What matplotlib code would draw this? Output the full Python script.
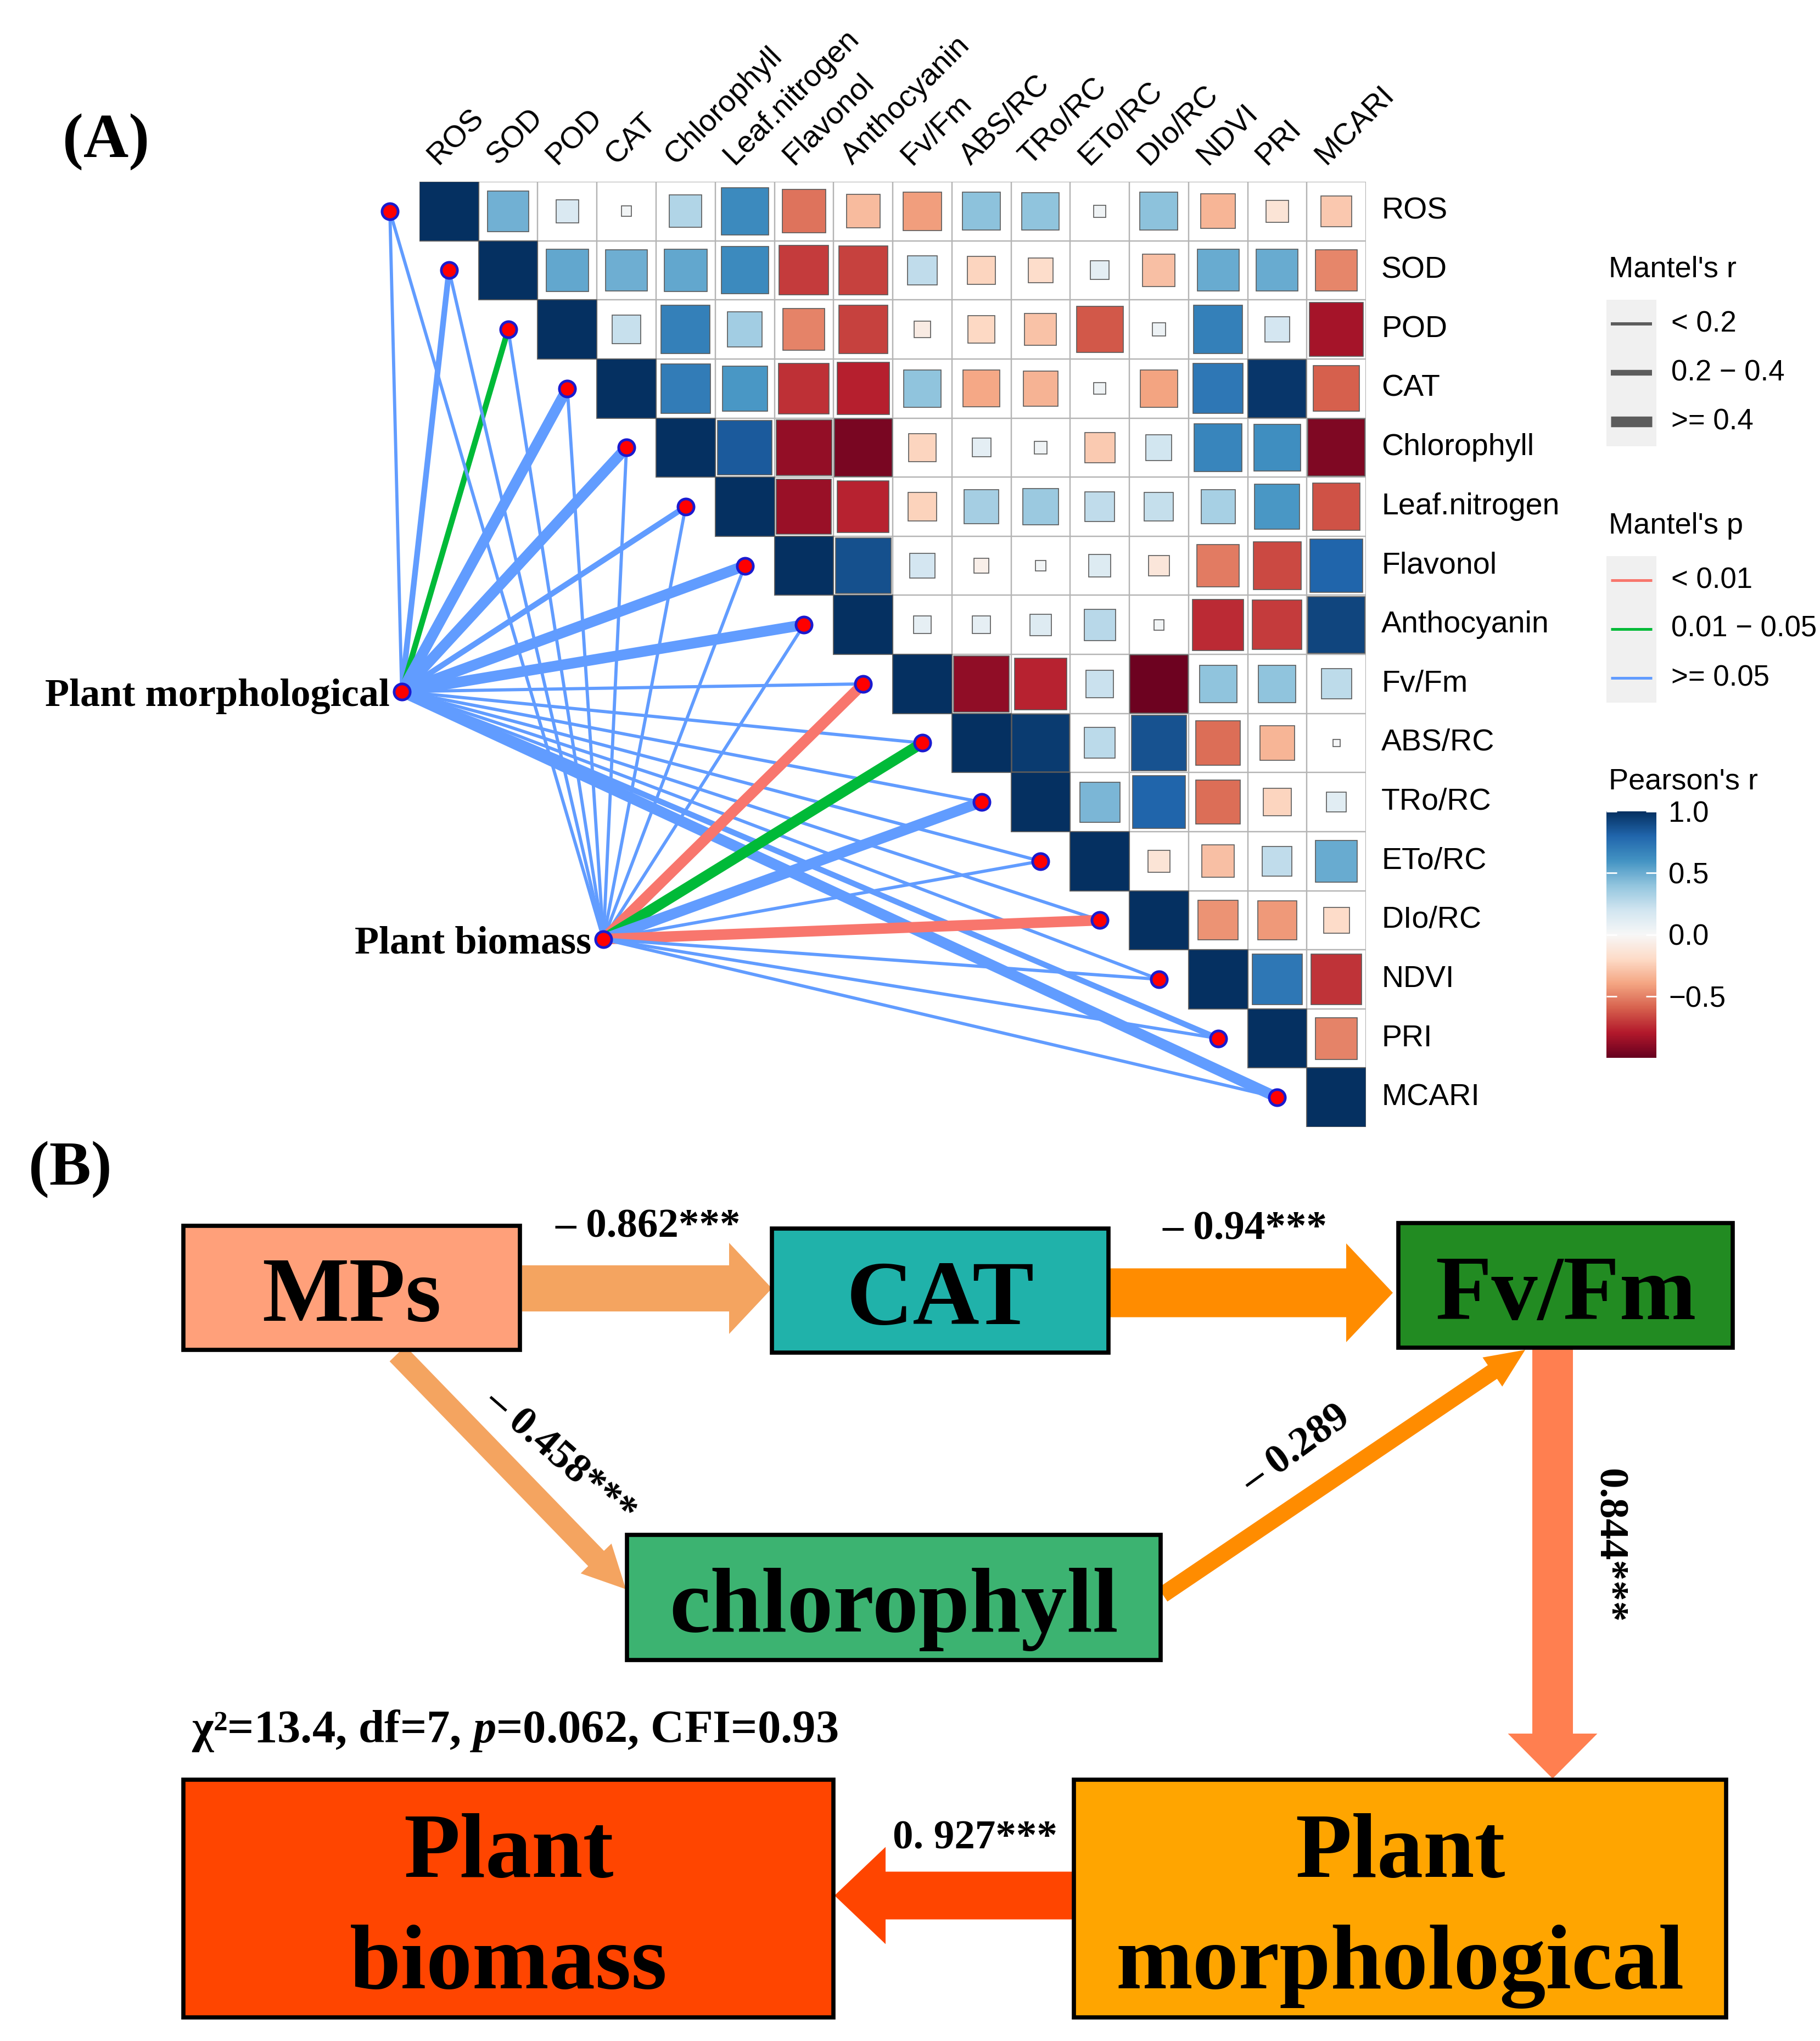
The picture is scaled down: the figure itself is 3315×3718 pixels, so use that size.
import numpy as np
import matplotlib
matplotlib.use("Agg")
import matplotlib.pyplot as plt
from matplotlib.patches import Rectangle, FancyArrow
from matplotlib.colors import Normalize
from matplotlib.cm import ScalarMappable

plt.rcParams['font.family'] = ['Liberation Sans', 'DejaVu Sans']
plt.rcParams['mathtext.fontset'] = 'custom'
plt.rcParams['mathtext.rm'] = 'Liberation Serif:bold'
plt.rcParams['mathtext.it'] = 'Liberation Serif:italic:bold'

W, H = 3316, 3718

# ---------------- data: panel A ----------------
variables = ["ROS", "SOD", "POD", "CAT", "Chlorophyll", "Leaf.nitrogen", "Flavonol",
             "Anthocyanin", "Fv/Fm", "ABS/RC", "TRo/RC", "ETo/RC", "DIo/RC",
             "NDVI", "PRI", "MCARI"]

# upper triangle of Pearson's r: row i holds the columns i+1 .. 15
pearson_r = [
    [0.48, 0.15, 0.03, 0.30, 0.64, -0.54, -0.32, -0.42, 0.41, 0.40, 0.04, 0.41, -0.34, -0.14, -0.27],
    [0.52, 0.49, 0.52, 0.64, -0.70, -0.68, 0.25, -0.22, -0.18, 0.10, -0.30, 0.50, 0.50, -0.49],
    [0.23, 0.68, 0.35, -0.50, -0.68, -0.08, -0.21, -0.29, -0.62, 0.05, 0.68, 0.18, -0.83],
    [0.70, 0.58, -0.73, -0.78, 0.40, -0.39, -0.35, 0.04, -0.40, 0.72, 0.97, -0.60],
    [0.84, -0.88, -0.95, -0.22, 0.10, 0.045, -0.26, 0.19, 0.66, 0.62, -0.93],
    [-0.86, -0.77, -0.23, 0.34, 0.37, 0.25, 0.24, 0.33, 0.58, -0.64],
    [0.88, 0.18, -0.06, 0.03, 0.14, -0.12, -0.52, -0.66, 0.80],
    [0.09, 0.09, 0.13, 0.28, 0.03, -0.75, -0.70, 0.92],
    [-0.89, -0.77, 0.22, -0.98, 0.40, 0.40, 0.26],
    [0.96, 0.27, 0.87, -0.56, -0.34, 0.015],
    [0.46, 0.80, -0.56, -0.22, 0.11],
    [-0.14, -0.30, 0.25, 0.50],
    [-0.45, -0.43, -0.19],
    [0.72, -0.72],
    [-0.50],
]

mantel_groups = ["Plant morphological", "Plant biomass"]
mantel_r_morph = [0.12, 0.30, 0.28, 0.52, 0.55, 0.32, 0.48, 0.50,
                  0.10, 0.12, 0.10, 0.08, 0.10, 0.12, 0.30, 0.50]
mantel_p_morph = [0.30, 0.12, 0.03, 0.08, 0.07, 0.15, 0.09, 0.08,
                  0.40, 0.35, 0.45, 0.50, 0.40, 0.35, 0.12, 0.08]
mantel_r_bio = [0.10, 0.08, 0.10, 0.12, 0.10, 0.12, 0.10, 0.12,
                0.45, 0.50, 0.42, 0.10, 0.55, 0.10, 0.12, 0.10]
mantel_p_bio = [0.40, 0.50, 0.40, 0.35, 0.45, 0.35, 0.40, 0.35,
                0.005, 0.02, 0.07, 0.40, 0.002, 0.45, 0.35, 0.40]

# ---------------- data: panel B ----------------
sem_nodes = ["MPs", "CAT", "Fv/Fm", "chlorophyll", "Plant\nbiomass", "Plant\nmorphological"]
sem_colors = ["#FFA07A", "#20B2AA", "#228B22", "#3CB371", "#FF4500", "#FFA500"]
path_coef = [-0.862, -0.94, -0.458, -0.289, 0.844, 0.927]
path_labels = ["– 0.862***", "– 0.94***", "– 0.458***", "– 0.289", "0.844***", "0. 927***"]
fit_text = r"χ²=13.4, df=7, $p$=0.062, CFI=0.93"


def link_width(r):
    if r < 0.2:
        return 4.2
    if r < 0.4:
        return 7.5
    return 14


def link_color(p):
    if p < 0.01:
        return "#F8766D"
    if p < 0.05:
        return "#00BA38"
    return "#619CFF"


fig = plt.figure(figsize=(W / 100, H / 100), dpi=100)

# background axes in pixel units (panel B, legends, panel tags)
ax_bg = fig.add_axes([0, 0, 1, 1], zorder=0)
ax_bg.set_xlim(0, W)
ax_bg.set_ylim(H, 0)
ax_bg.axis('off')

# heatmap axes in cell units
ax = fig.add_axes([764 / W, 1 - 2053 / H, 1724 / W, 1722 / H], zorder=1)
ax.set_xlim(-0.5, 15.5)
ax.set_ylim(15.5, -0.5)
ax.axis('off')

cmap = plt.get_cmap('RdBu')
norm = Normalize(-1, 1)
n = len(variables)

for i in range(n):
    for j in range(i, n):
        r = 1.0 if i == j else pearson_r[i][j - i - 1]
        ax.add_patch(Rectangle((j - 0.5, i - 0.5), 1, 1, fill=False,
                               edgecolor='#b4b4b4', lw=1.6, zorder=2))
        side = np.sqrt(abs(r))
        ax.add_patch(Rectangle((j - side / 2, i - side / 2), side, side,
                               facecolor=cmap(norm(r)), edgecolor='#5a5a5a',
                               lw=1.2, zorder=3))

for j, name in enumerate(variables):
    ax.text(j - 0.18, -0.77, name, rotation=45, rotation_mode='anchor',
            ha='left', va='baseline', fontsize=40, clip_on=False)
    ax.text(15.5 + 0.26, j, name, ha='left', va='center', fontsize=40, clip_on=False)

# Mantel links
hub_pos = {"Plant morphological": (-0.80, 8.13), "Plant biomass": (2.61, 12.32)}
ends_x = [i - 1 for i in range(n)]
ends_y = [i for i in range(n)]
for group, rs, ps in [("Plant morphological", mantel_r_morph, mantel_p_morph),
                      ("Plant biomass", mantel_r_bio, mantel_p_bio)]:
    hx, hy = hub_pos[group]
    for k in range(n):
        ax.plot([hx, ends_x[k]], [hy, ends_y[k]], color=link_color(ps[k]),
                lw=link_width(rs[k]), solid_capstyle='butt', clip_on=False, zorder=4)

ax.plot(ends_x, ends_y, 'o', ms=21, mfc='red', mec='#1a1ad0', mew=3.5,
        clip_on=False, zorder=6)
for group in mantel_groups:
    hx, hy = hub_pos[group]
    ax.plot([hx], [hy], 'o', ms=21, mfc='red', mec='#1a1ad0', mew=3.5,
            clip_on=False, zorder=6)
    ax.text(hx - 0.2, hy + 0.08, group, ha='right', va='center', fontsize=52,
            family='Liberation Serif', fontweight='bold', clip_on=False)

# legends
def legend_block(title, title_y, key_top, items):
    ax_bg.text(2930, title_y, title, ha='left', va='center', fontsize=39)
    ax_bg.add_patch(Rectangle((2926, key_top), 91, 267, facecolor='#f0f0f0',
                              edgecolor='none'))
    for k, (label, color, lw) in enumerate(items):
        y = key_top + 44 + 89 * k
        ax_bg.plot([2934, 3009], [y, y], color=color, lw=lw, solid_capstyle='butt')
        ax_bg.text(3044, y, label, ha='left', va='center', fontsize=38)


legend_block("Mantel's r", 490, 546,
             [("< 0.2", '#5c5c5c', link_width(0.1)),
              ("0.2 − 0.4", '#5c5c5c', link_width(0.3)),
              (">= 0.4", '#5c5c5c', link_width(0.5))])
legend_block("Mantel's p", 958, 1013,
             [("< 0.01", link_color(0.001), 3.6),
              ("0.01 − 0.05", link_color(0.02), 3.6),
              (">= 0.05", link_color(0.5), 3.6)])

ax_bg.text(2930, 1424, "Pearson's r", ha='left', va='center', fontsize=39)
cax = fig.add_axes([2926 / W, 1 - 1927 / H, 91 / W, 449 / H], zorder=2)
cb = fig.colorbar(ScalarMappable(norm=norm, cmap=cmap), cax=cax,
                  ticks=[-0.5, 0.0, 0.5, 1.0])
cb.outline.set_visible(False)
cax.set_yticklabels(["−0.5", "0.0", "0.5", "1.0"])
cax.tick_params(axis='y', direction='in', color='white', length=14, width=2,
                left=True, right=True, labelsize=38, pad=16)

# panel tags
ax_bg.text(114, 258, "(A)", ha='left', va='center', fontsize=82,
           family='Liberation Serif', fontweight='bold')
ax_bg.text(52, 2130, "(B)", ha='left', va='center', fontsize=82,
           family='Liberation Serif', fontweight='bold')

# ---------------- panel B ----------------
boxes = [(334, 2233, 947, 2459), (1406, 2238, 2019, 2464), (2547, 2228, 3156, 2455),
         (1142, 2796, 2114, 3024), (334, 3242, 1518, 3675), (1956, 3242, 3144, 3675)]
# baselines of each text line inside the boxes
text_lines = [[2406], [2412], [2403], [2972], [3419, 3622], [3419, 3622]]

for name, color, (x0, y0, x1, y1), bases in zip(sem_nodes, sem_colors, boxes, text_lines):
    ax_bg.add_patch(Rectangle((x0, y0), x1 - x0, y1 - y0, facecolor=color,
                              edgecolor='black', lw=5.5, zorder=3))
    for line, yb in zip(name.split("\n"), bases):
        ax_bg.text((x0 + x1) / 2, yb, line, ha='center', va='baseline', fontsize=121,
                   family='Liberation Serif', fontweight='bold', zorder=4)

arrows = [
    ((951, 2347), (1406, 2347), 84, 166, 78, "#F4A460"),
    ((2021, 2355), (2537, 2355), 89, 180, 85, "#FF8C00"),
    ((724, 2466), (1140, 2895), 40, 78, 78, "#F4A460"),
    ((2118, 2905), (2778, 2459), 30, 64, 72, "#FF8C00"),
    ((2828, 2457), (2828, 3240), 74, 163, 82, "#FF7F50"),
    ((1954, 3453), (1520, 3453), 87, 177, 93, "#FF4500"),
]
for (xs, ys), (xe, ye), w, hw, hl, c in arrows:
    ax_bg.add_patch(FancyArrow(xs, ys, xe - xs, ye - ys, width=w, head_width=hw,
                               head_length=hl, length_includes_head=True,
                               facecolor=c, edgecolor='none', zorder=2))

label_pos = [(1180, 2254, 0, 'baseline'), (2267, 2257, 0, 'baseline'),
             (1020, 2655, -41, 'center'), (2362, 2641, 36, 'center'),
             (2930, 2816, -90, 'center'), (1776, 3367, 0, 'baseline')]
for text, (x, y, rot, va) in zip(path_labels, label_pos):
    ax_bg.text(x, y, text, ha='center', va=va, rotation=rot, rotation_mode='anchor',
               fontsize=54, family='Liberation Serif', fontweight='bold', zorder=5)

ax_bg.text(349, 3174, fit_text, ha='left', va='baseline', fontsize=61,
           family='Liberation Serif', fontweight='bold')

fig.savefig("out.png", dpi=100)
